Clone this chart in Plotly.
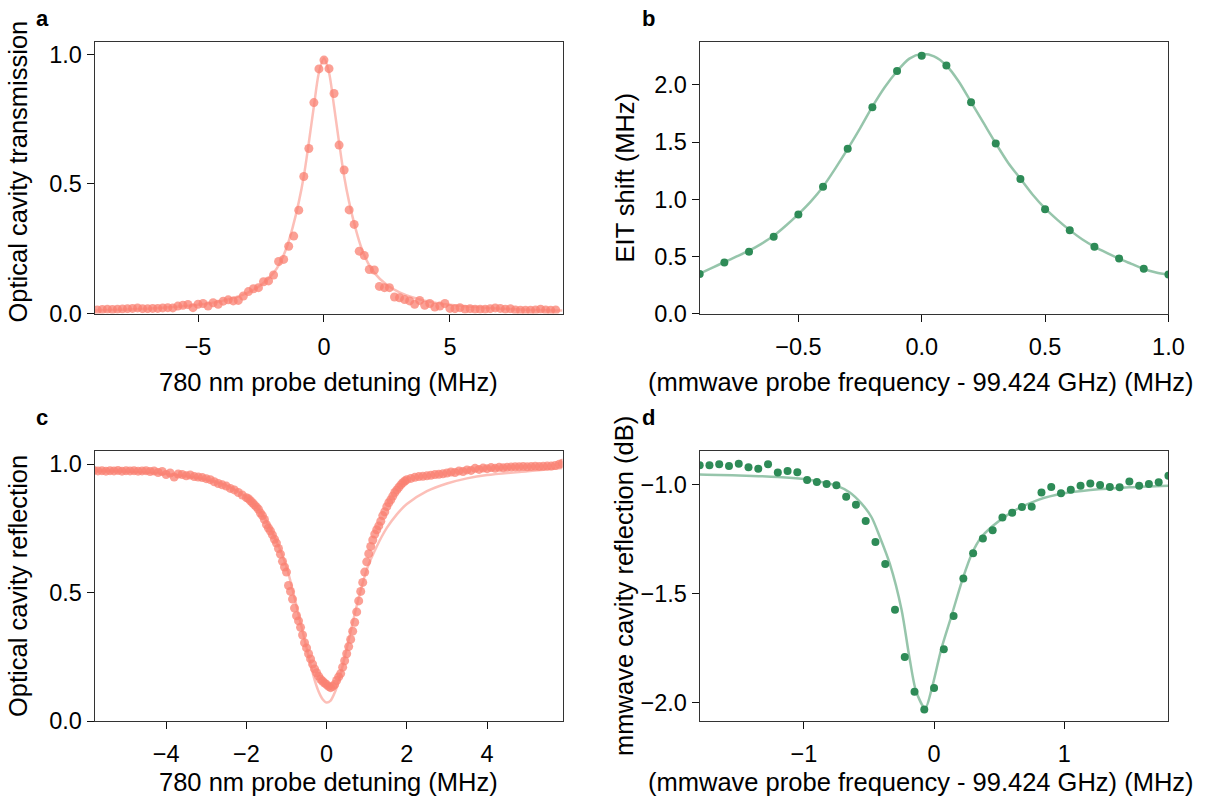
import plotly.graph_objects as go

# ---------------- data ----------------
# panel a: optical cavity transmission
a_x = [-9.0, -8.8, -8.6, -8.4, -8.2, -8.0, -7.8, -7.6, -7.4, -7.2, -7.0, -6.8, -6.6, -6.4, -6.2,
       -6.0, -5.8, -5.6, -5.4, -5.2, -5.0, -4.8, -4.6, -4.4, -4.2, -4.0, -3.8, -3.6, -3.4, -3.2,
       -3.0, -2.8, -2.6, -2.4, -2.2, -2.0, -1.8, -1.6, -1.4, -1.2, -1.0, -0.8, -0.6, -0.4, -0.2,
       0.0, 0.2, 0.4, 0.6, 0.8, 1.0, 1.2, 1.4, 1.6, 1.8, 2.0, 2.2, 2.4, 2.6, 2.8,
       3.0, 3.2, 3.4, 3.6, 3.8, 4.0, 4.2, 4.4, 4.6, 4.8, 5.0, 5.2, 5.4, 5.6, 5.8,
       6.0, 6.2, 6.4, 6.6, 6.8, 7.0, 7.2, 7.4, 7.6, 7.8, 8.0, 8.2, 8.4, 8.6, 8.8, 9.0, 9.2]
a_y = [0.014, 0.016, 0.017, 0.016, 0.017, 0.018, 0.019, 0.020, 0.022, 0.019, 0.019, 0.020, 0.020, 0.022, 0.023,
       0.022, 0.029, 0.032, 0.035, 0.023, 0.036, 0.039, 0.029, 0.042, 0.036, 0.048, 0.053, 0.049, 0.051, 0.068,
       0.085, 0.096, 0.100, 0.123, 0.126, 0.149, 0.201, 0.209, 0.260, 0.299, 0.399, 0.529, 0.637, 0.814, 0.944,
       0.978, 0.945, 0.849, 0.650, 0.554, 0.400, 0.344, 0.241, 0.224, 0.170, 0.168, 0.105, 0.100, 0.100, 0.064,
       0.061, 0.054, 0.049, 0.036, 0.051, 0.032, 0.039, 0.025, 0.029, 0.039, 0.020, 0.019, 0.023, 0.017, 0.019,
       0.017, 0.017, 0.017, 0.019, 0.022, 0.020, 0.017, 0.019, 0.014, 0.013, 0.013, 0.013, 0.014, 0.017, 0.014, 0.013, 0.014]
a_fit_x = [-9.1, -8.0, -7.0, -6.0, -5.0, -4.0, -3.5, -3.0, -2.5, -2.0, -1.75, -1.5, -1.25, -1.0, -0.8,
           -0.6, -0.4, -0.2, 0.0, 0.2, 0.4, 0.6, 0.8, 1.0, 1.25, 1.5, 1.75, 2.0, 2.5, 3.0,
           3.5, 4.0, 5.0, 6.0, 7.0, 8.0, 9.47]
a_fit_y = [0.012, 0.015, 0.019, 0.025, 0.034, 0.050, 0.063, 0.082, 0.110, 0.157, 0.195, 0.250, 0.330, 0.430, 0.530,
           0.660, 0.800, 0.930, 0.985, 0.930, 0.800, 0.660, 0.530, 0.430, 0.330, 0.250, 0.195, 0.157, 0.110, 0.082,
           0.063, 0.050, 0.034, 0.025, 0.019, 0.015, 0.012]

# panel b: EIT shift
b_x = [-0.9, -0.8, -0.7, -0.6, -0.5, -0.4, -0.3, -0.2, -0.1, 0.0,
       0.1, 0.2, 0.3, 0.4, 0.5, 0.6, 0.7, 0.8, 0.9, 1.0]
b_y = [0.346, 0.448, 0.541, 0.672, 0.866, 1.110, 1.442, 1.805, 2.122, 2.256,
       2.169, 1.849, 1.488, 1.177, 0.913, 0.730, 0.584, 0.483, 0.392, 0.343]
b_fit_x = [-0.9, -0.85, -0.8, -0.75, -0.7, -0.65, -0.6, -0.55, -0.5, -0.45, -0.4, -0.35, -0.3,
           -0.25, -0.2, -0.15, -0.1, -0.05, 0.0, 0.05, 0.1, 0.15, 0.2, 0.25, 0.3, 0.35, 0.4,
           0.45, 0.5, 0.55, 0.6, 0.65, 0.7, 0.75, 0.8, 0.85, 0.9, 0.95, 1.0]
b_fit_y = [0.35, 0.40, 0.45, 0.50, 0.55, 0.61, 0.68, 0.77, 0.87, 0.98, 1.11, 1.27, 1.44,
           1.62, 1.81, 1.98, 2.12, 2.23, 2.27, 2.25, 2.17, 2.03, 1.85, 1.67, 1.49, 1.32, 1.18,
           1.04, 0.92, 0.82, 0.73, 0.65, 0.585, 0.53, 0.48, 0.435, 0.39, 0.36, 0.34]

# panel c: optical cavity reflection
c_x = [-5.8, -5.7, -5.6, -5.5, -5.4, -5.3, -5.2, -5.1, -5.0, -4.9, -4.8, -4.7, -4.6, -4.5, -4.4, -4.3,
       -4.2, -4.1, -4.0, -3.9, -3.8, -3.7, -3.6, -3.5, -3.4, -3.3, -3.2, -3.1, -3.0, -2.9, -2.8,
       -2.7, -2.6, -2.5, -2.4, -2.3, -2.2, -2.1,
       -2.0, -1.95, -1.9, -1.85, -1.8, -1.75, -1.7, -1.65, -1.6, -1.55, -1.5, -1.45, -1.4, -1.35,
       -1.3, -1.25, -1.2, -1.15, -1.1, -1.05, -1.0, -0.95, -0.9, -0.85, -0.8, -0.75, -0.7, -0.65,
       -0.6, -0.55, -0.5, -0.45, -0.4, -0.35, -0.3, -0.25, -0.2, -0.15, -0.1, -0.05, 0.0, 0.05,
       0.1, 0.15, 0.2, 0.25, 0.3, 0.35, 0.4, 0.45, 0.5, 0.55, 0.6, 0.65, 0.7, 0.75, 0.8, 0.85,
       0.9, 0.95, 1.0, 1.05, 1.1, 1.15, 1.2, 1.25, 1.3, 1.35, 1.4, 1.45, 1.5, 1.55, 1.6, 1.65,
       1.7, 1.75, 1.8, 1.85, 1.9, 1.95, 2.0,
       2.1, 2.2, 2.3, 2.4, 2.5, 2.6, 2.7, 2.8, 2.9, 3.0, 3.1, 3.2, 3.3, 3.4, 3.5, 3.6, 3.7,
       3.8, 3.9, 4.0, 4.1, 4.2, 4.3, 4.4, 4.5, 4.6, 4.7, 4.8, 4.9, 5.0, 5.1, 5.2, 5.3, 5.4,
       5.5, 5.6, 5.7, 5.8, 5.88]
c_y = [0.976, 0.974, 0.975, 0.973, 0.975, 0.974, 0.976, 0.973, 0.975, 0.974, 0.975, 0.973, 0.974, 0.975, 0.972, 0.974,
       0.968, 0.972, 0.960, 0.966, 0.950, 0.962, 0.960, 0.955, 0.958, 0.952, 0.950, 0.948, 0.944, 0.940, 0.932,
       0.925, 0.920, 0.915, 0.906, 0.900, 0.890, 0.880,
       0.870, 0.866, 0.858, 0.850, 0.842, 0.834, 0.825, 0.810, 0.800, 0.785, 0.765, 0.752, 0.740, 0.725,
       0.708, 0.693, 0.672, 0.650, 0.622, 0.600, 0.580, 0.528, 0.505, 0.475, 0.440, 0.410, 0.390, 0.365,
       0.335, 0.305, 0.285, 0.262, 0.242, 0.222, 0.203, 0.188, 0.175, 0.163, 0.155, 0.148, 0.142, 0.135,
       0.130, 0.135, 0.142, 0.158, 0.172, 0.185, 0.210, 0.235, 0.262, 0.290, 0.318, 0.350, 0.385, 0.425, 0.468, 0.505,
       0.540, 0.580, 0.620, 0.652, 0.680, 0.705, 0.728, 0.745, 0.760, 0.778, 0.800, 0.815, 0.835, 0.850, 0.862, 0.876,
       0.890, 0.900, 0.910, 0.920, 0.928, 0.935, 0.940,
       0.945, 0.949, 0.952, 0.953, 0.955, 0.957, 0.960, 0.961, 0.963, 0.966, 0.970, 0.968, 0.974, 0.972, 0.978, 0.976, 0.984,
       0.980, 0.985, 0.983, 0.987, 0.984, 0.988, 0.986, 0.988, 0.989, 0.990, 0.990, 0.991, 0.990, 0.991, 0.992, 0.991, 0.992,
       0.993, 0.993, 0.995, 1.000, 1.004]
c_fit_x = [-5.78, -5.0, -4.0, -3.5, -3.0, -2.5, -2.0, -1.75, -1.5, -1.25, -1.0, -0.8, -0.6, -0.4, -0.3,
           -0.2, -0.1, 0.0, 0.1, 0.2, 0.3, 0.4, 0.6, 0.8, 1.0, 1.25, 1.5, 1.75, 2.0, 2.5,
           3.0, 3.5, 4.0, 5.0, 5.88]
c_fit_y = [0.975, 0.972, 0.962, 0.953, 0.940, 0.918, 0.872, 0.835, 0.780, 0.700, 0.600, 0.480, 0.350, 0.220, 0.160,
           0.115, 0.085, 0.072, 0.080, 0.110, 0.155, 0.215, 0.350, 0.480, 0.590, 0.680, 0.752, 0.805, 0.845, 0.895,
           0.925, 0.945, 0.958, 0.973, 0.985]

# panel d: mmwave cavity reflection
d_x = [-1.8, -1.725, -1.65, -1.575, -1.5, -1.425, -1.35, -1.275, -1.2, -1.125, -1.05, -0.975, -0.9,
       -0.825, -0.75, -0.675, -0.6, -0.525, -0.45, -0.375, -0.3, -0.225, -0.15, -0.075, 0.0,
       0.075, 0.15, 0.225, 0.3, 0.375, 0.45, 0.525, 0.6, 0.675, 0.75, 0.825, 0.9, 0.975,
       1.05, 1.125, 1.2, 1.275, 1.35, 1.425, 1.5, 1.575, 1.65, 1.725, 1.8]
d_y = [-0.912, -0.912, -0.907, -0.915, -0.904, -0.921, -0.928, -0.907, -0.945, -0.938, -0.944, -0.979, -0.988,
       -0.997, -1.003, -1.056, -1.093, -1.167, -1.263, -1.364, -1.574, -1.791, -1.951, -2.032, -1.933,
       -1.756, -1.603, -1.431, -1.315, -1.247, -1.210, -1.151, -1.129, -1.103, -1.102, -1.037, -1.011, -1.040,
       -1.024, -1.006, -0.995, -1.002, -1.011, -1.012, -0.986, -1.005, -0.997, -0.989, -0.960]
d_fit_x = [-1.8, -1.5, -1.2, -1.0, -0.85, -0.75, -0.65, -0.56, -0.48, -0.42, -0.34, -0.25, -0.19, -0.137,
           -0.068, -0.016, 0.055, 0.134, 0.221, 0.292, 0.357, 0.45, 0.6, 0.8, 1.0, 1.2, 1.5, 1.8]
d_fit_y = [-0.954, -0.958, -0.965, -0.975, -0.990, -1.005, -1.035, -1.085, -1.150, -1.235, -1.363, -1.573, -1.790, -1.950,
           -2.026, -1.932, -1.756, -1.602, -1.430, -1.315, -1.246, -1.190, -1.125, -1.070, -1.040, -1.025, -1.012, -1.005]

# ---------------- styling ----------------
FONT = "Liberation Sans, Arial, Helvetica, sans-serif"
SALMON_PT = "rgba(250,128,114,0.75)"
SALMON_LN = "rgba(250,128,114,0.5)"
GREEN_PT = "#2e8b57"
GREEN_LN = "rgba(46,139,87,0.5)"
W, H = 1217, 799
SY = 0.985
TICK_SIZE = 23.5
TITLE_SIZE = 25.5

def px_x(p):
    return p / W

def px_y(p):
    return 1 - p / (H * SY)

fig = go.Figure()

def add_panel(idx, lx, ly, fx, fy, pcol, lcol, msize, lw):
    xa = "x" if idx == 1 else f"x{idx}"
    ya = "y" if idx == 1 else f"y{idx}"
    fig.add_trace(go.Scatter(x=fx, y=fy, mode="lines", line=dict(color=lcol, width=lw, shape="spline", smoothing=0.8),
                             xaxis=xa, yaxis=ya, showlegend=False, hoverinfo="skip"))
    fig.add_trace(go.Scatter(x=lx, y=ly, mode="markers", marker=dict(color=pcol, size=msize, line=dict(width=0)),
                             xaxis=xa, yaxis=ya, showlegend=False))

add_panel(1, a_x, a_y, a_fit_x, a_fit_y, SALMON_PT, SALMON_LN, 9, 2.5)
add_panel(2, b_x, b_y, b_fit_x, b_fit_y, GREEN_PT, GREEN_LN, 8, 2.5)
add_panel(3, c_x, c_y, c_fit_x, c_fit_y, SALMON_PT, SALMON_LN, 9, 2.5)
add_panel(4, d_x, d_y, d_fit_x, d_fit_y, GREEN_PT, GREEN_LN, 8, 2.5)

# axis boxes in target pixels
LEFT = (96, 570)
RIGHT = (709, 1184)
TOP = (42, 314)
BOT = (452, 722)

def xdom(r):
    return [px_x(r[0]), px_x(r[1])]

def ydom(r):
    return [px_y(r[1]), px_y(r[0])]

axis_common = dict(showline=True, linecolor="#333333", linewidth=1.3, mirror=True,
                   ticks="outside", ticklen=7, tickwidth=1.3, tickcolor="#111111",
                   showgrid=False, zeroline=False,
                   tickfont=dict(family=FONT, size=TICK_SIZE, color="#000000"))
xcommon = dict(axis_common, ticklabelstandoff=5)
ycommon = dict(axis_common)

fig.update_layout(
    xaxis=dict(domain=xdom(LEFT), anchor="y", range=[-9.1, 9.47], tickvals=[-5, 0, 5], **xcommon),
    yaxis=dict(domain=ydom(TOP), anchor="x", range=[0, 1.048], tickvals=[0, 0.5, 1.0], tickformat=".1f", **ycommon),
    xaxis2=dict(domain=xdom(RIGHT), anchor="y2", range=[-0.9, 1.0], tickvals=[-0.5, 0, 0.5, 1.0], tickformat=".1f", **xcommon),
    yaxis2=dict(domain=ydom(TOP), anchor="x2", range=[0, 2.376], tickvals=[0, 0.5, 1.0, 1.5, 2.0], tickformat=".1f", **ycommon),
    xaxis3=dict(domain=xdom(LEFT), anchor="y3", range=[-5.78, 5.88], tickvals=[-4, -2, 0, 2, 4], **xcommon),
    yaxis3=dict(domain=ydom(BOT), anchor="x3", range=[0, 1.05], tickvals=[0, 0.5, 1.0], tickformat=".1f", **ycommon),
    xaxis4=dict(domain=xdom(RIGHT), anchor="y4", range=[-1.8, 1.8], tickvals=[-1, 0, 1], **xcommon),
    yaxis4=dict(domain=ydom(BOT), anchor="x4", range=[-2.085, -0.848], tickvals=[-2.0, -1.5, -1.0], tickformat=".1f", **ycommon),
    width=W, height=H, autosize=False,
    margin=dict(l=0, r=0, t=0, b=0),
    paper_bgcolor="white", plot_bgcolor="white",
    font=dict(family=FONT, size=20, color="#000000"),
)

ann = []
def label(text, x, y, angle=0, size=TITLE_SIZE, bold=False):
    t = f"<b>{text}</b>" if bold else text
    ann.append(dict(text=t, x=px_x(x), y=px_y(y), xref="paper", yref="paper", showarrow=False,
                    xanchor="center", yanchor="middle", textangle=angle,
                    font=dict(family=FONT, size=size, color="#000000")))

# panel letters
label("a", 43, 19, size=22, bold=True)
label("b", 657, 19, size=22, bold=True)
label("c", 43, 418, size=22, bold=True)
label("d", 657, 418, size=22, bold=True)
# x titles
label("780 nm probe detuning (MHz)", 333, 382)
label("(mmwave probe frequency - 99.424 GHz) (MHz)", 933, 382)
label("780 nm probe detuning (MHz)", 333, 783)
label("(mmwave probe frequency - 99.424 GHz) (MHz)", 933, 783)
# y titles
label("Optical cavity transmission", 18, 172, angle=-90)
label("EIT shift (MHz)", 633, 178, angle=-90)
label("Optical cavity reflection", 18, 587, angle=-90)
label("mmwave cavity reflection (dB)", 633, 587, angle=-90)

fig.update_layout(annotations=ann)
fig.write_html("out.html")
